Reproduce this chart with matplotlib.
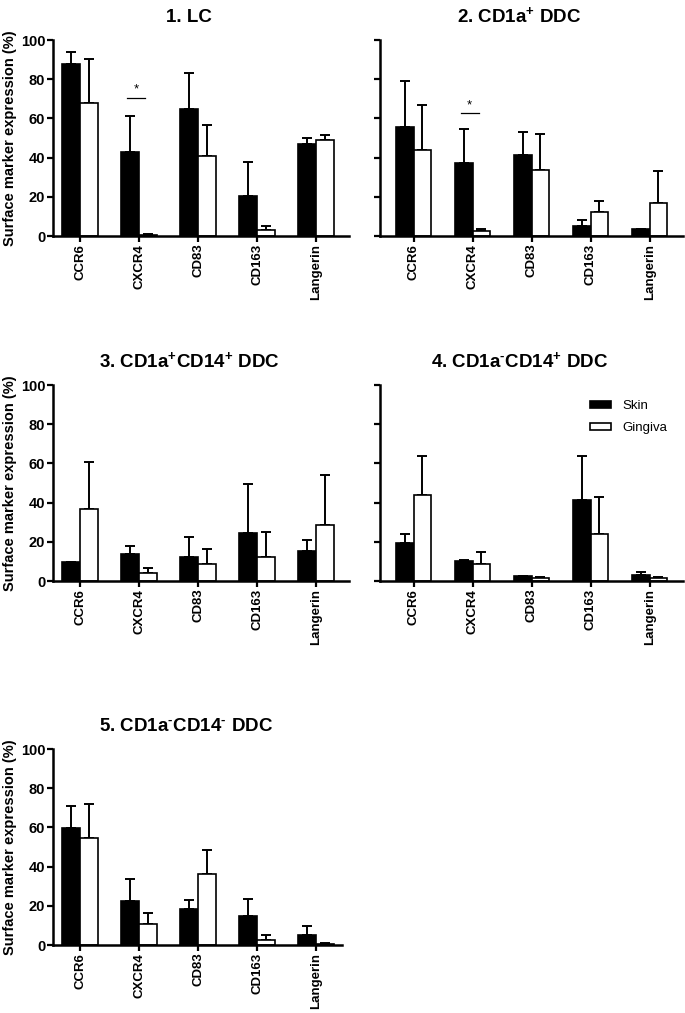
import numpy as np
import matplotlib
matplotlib.use("Agg")
import matplotlib.pyplot as plt
from matplotlib.patches import Patch

plt.rcParams['font.family'] = ['Liberation Sans', 'DejaVu Sans']
plt.rcParams['font.weight'] = 'bold'
plt.rcParams['mathtext.fontset'] = 'custom'
plt.rcParams['mathtext.rm'] = 'Liberation Sans:bold'
plt.rcParams['mathtext.default'] = 'rm'

markers = ["CCR6", "CXCR4", "CD83", "CD163", "Langerin"]

titles = ["1. LC",
          "2. CD1a$^{+}$ DDC",
          "3. CD1a$^{+}$CD14$^{+}$ DDC",
          "4. CD1a$^{\u2010}$CD14$^{+}$ DDC",
          "5. CD1a$^{\u2010}$CD14$^{\u2010}$ DDC"]

# mean values and upper error
skin_1 = [88, 43, 65, 20.5, 47]
skin_1_err = [6, 18, 18, 17.5, 3]
ging_1 = [68, 0.5, 41, 3, 49]
ging_1_err = [22.5, 0.3, 15.5, 2, 2.5]

skin_2 = [55.5, 37, 41.5, 5, 3.5]
skin_2_err = [23.5, 17.5, 11.5, 3, 0.3]
ging_2 = [44, 2.5, 33.5, 12, 16.7]
ging_2_err = [23, 1.3, 18.5, 6, 16.3]

skin_3 = [9.8, 13.9, 12.5, 24.7, 15.3]
skin_3_err = [0, 4.2, 9.9, 24.6, 5.7]
ging_3 = [36.8, 4.2, 8.5, 12.5, 28.5]
ging_3_err = [23.7, 2.2, 7.9, 12.4, 25.5]

skin_4 = [19.3, 10.2, 2.5, 41.5, 3.2]
skin_4_err = [4.9, 0.3, 0.3, 22.4, 1.2]
ging_4 = [44, 8.8, 1.7, 23.9, 1.5]
ging_4_err = [19.6, 6.1, 0.3, 18.8, 0.3]

skin_5 = [59.9, 22.4, 18.4, 14.6, 5.1]
skin_5_err = [11.2, 11.3, 4.7, 8.9, 4.8]
ging_5 = [54.8, 10.9, 36.4, 2.4, 0.7]
ging_5_err = [17.2, 5.4, 12.1, 2.7, 0.3]

skin = [skin_1, skin_2, skin_3, skin_4, skin_5]
skin_err = [skin_1_err, skin_2_err, skin_3_err, skin_4_err, skin_5_err]
ging = [ging_1, ging_2, ging_3, ging_4, ging_5]
ging_err = [ging_1_err, ging_2_err, ging_3_err, ging_4_err, ging_5_err]

# significance marks: panel index -> (marker index, line height)
signif = {0: (1, 70.5), 1: (1, 62.5)}

W, H = 685, 1013
fig = plt.figure(figsize=(W / 100, H / 100), dpi=100)

# axes boxes in pixels: left, top(y=100), width
boxes = [(53, 40, 296), (380, 40, 303),
         (53, 385, 296), (380, 385, 303),
         (53, 749, 289)]
ax_h = 196

x = np.arange(len(markers))
bw = 0.3

for i in range(5):
    l, t, w = boxes[i]
    ax = fig.add_axes([l / W, 1 - (t + ax_h) / H, w / W, ax_h / H])
    ax.bar(x - bw / 2, skin[i], bw, color='black', edgecolor='black', linewidth=1.2, zorder=2)
    ax.bar(x + bw / 2, ging[i], bw, color='white', edgecolor='black', linewidth=1.2, zorder=2)
    ax.errorbar(x - bw / 2, skin[i], yerr=[np.zeros(5), skin_err[i]], fmt='none',
                ecolor='black', elinewidth=1.4, capsize=3.6, capthick=1.4, zorder=1)
    ax.errorbar(x + bw / 2, ging[i], yerr=[np.zeros(5), ging_err[i]], fmt='none',
                ecolor='black', elinewidth=1.4, capsize=3.6, capthick=1.4, zorder=1)

    ax.set_ylim(0, 100)
    if i % 2 == 0:
        ax.set_xlim(-0.46, -0.46 + w / 59)
    else:
        ax.set_xlim(-0.57, -0.57 + w / 59)
    ax.set_yticks([0, 20, 40, 60, 80, 100])
    ax.set_xticks(x)
    ax.set_xticklabels(markers, rotation=90, fontsize=9.5, fontweight='bold')
    if i % 2 == 0:
        ax.set_yticklabels(['0', '20', '40', '60', '80', '100'], fontsize=10.5, fontweight='bold')
        ax.set_ylabel("Surface marker expression (%)", fontsize=10.5, fontweight='bold', labelpad=3)
    else:
        ax.set_yticklabels([])
    ax.tick_params(axis='both', length=4, width=1.6, pad=1.5)
    for s in ['top', 'right']:
        ax.spines[s].set_visible(False)
    for s in ['left', 'bottom']:
        ax.spines[s].set_linewidth(1.8)
    ax.set_title(titles[i], fontsize=13.5, fontweight='bold', x=0.46, pad=13)

    if i in signif:
        k, h = signif[i]
        ax.plot([k - 0.2, k + 0.1], [h, h], color='black', lw=0.9)
        ax.text(k - 0.05, h + 1, '*', ha='center', va='bottom', fontsize=9.5, fontweight='normal')

    if i == 3:
        handles = [Patch(facecolor='black', edgecolor='black', linewidth=1.2),
                   Patch(facecolor='white', edgecolor='black', linewidth=1.2)]
        leg = ax.legend(handles, ['Skin', 'Gingiva'], loc='upper left',
                        bbox_to_anchor=(0.655, 0.985), frameon=False,
                        handlelength=1.6, handleheight=0.45, labelspacing=0.8,
                        prop={'size': 9.5, 'weight': 'normal'})

fig.savefig("out.png", dpi=100)
